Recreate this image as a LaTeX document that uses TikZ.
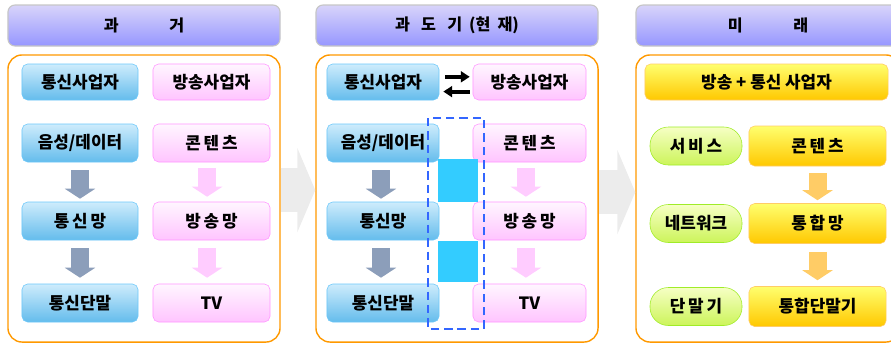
\documentclass[tikz,border=0pt]{standalone}
\usepackage{fontspec}
\setmainfont{Noto Sans CJK KR}
\usetikzlibrary{positioning}
\usetikzlibrary{arrows.meta}

\definecolor{hdrtop}{RGB}{216,212,250}
\definecolor{hdrbot}{RGB}{150,150,255}
\definecolor{panelorange}{RGB}{255,153,0}
\definecolor{telline}{RGB}{108,200,250}
\definecolor{teltop}{RGB}{206,236,252}
\definecolor{telbot}{RGB}{100,188,236}
\definecolor{bcline}{RGB}{255,150,255}
\definecolor{bctop}{RGB}{255,246,255}
\definecolor{bcbot}{RGB}{255,196,255}
\definecolor{yeltop}{RGB}{255,255,110}
\definecolor{yelbot}{RGB}{255,200,0}
\definecolor{yelline}{RGB}{255,204,102}
\definecolor{ovaltop}{RGB}{246,255,196}
\definecolor{ovalbot}{RGB}{204,244,90}
\definecolor{ovalline}{RGB}{160,236,40}
\definecolor{flowblue}{RGB}{140,158,186}
\definecolor{flowpink}{RGB}{255,204,255}
\definecolor{flowyel}{RGB}{255,204,102}
\definecolor{movecyan}{RGB}{51,204,255}
\definecolor{dashblue}{RGB}{51,102,255}

\newcommand\bxfont{\bfseries\fontsize{12}{14}\selectfont}

\begin{document}
\begin{tikzpicture}[x=0.025cm,y=-0.025cm,
    header/.style={draw=gray!45,line width=0.8pt,rounded corners=5pt,top color=hdrtop,bottom color=hdrbot,
      minimum height=1.025cm,inner sep=0pt,font=\bfseries\fontsize{11.5}{13}\selectfont},
    panel/.style={draw=panelorange,line width=1pt,rounded corners=10pt,fill=white,
      minimum height=7.175cm,inner sep=0pt},
    telbox/.style={draw=telline,rounded corners=4pt,top color=teltop,bottom color=telbot,
      minimum height=0.95cm,inner sep=0pt,font=\bxfont},
    bcbox/.style={draw=bcline,rounded corners=4pt,top color=bctop,bottom color=bcbot,
      minimum height=0.95cm,inner sep=0pt,font=\bxfont},
    yelbox/.style={draw=yelline,rounded corners=4pt,top color=yeltop,bottom color=yelbot,
      minimum height=1cm,inner sep=0pt,font=\bxfont},
    ovalbox/.style={draw=ovalline,rounded corners=13pt,top color=ovaltop,bottom color=ovalbot,
      minimum width=2.3cm,minimum height=0.95cm,inner sep=0pt,font=\bxfont},
    flow/.style={line width=0.45cm,-{Triangle[width=0.75cm,length=0.25cm]}},
    stage/.style={draw=gray!15,line width=1.1cm,-{Triangle[width=2.1cm,length=0.45cm]}},
    swap/.style={line width=0.1cm,-{Triangle[width=0.27cm,length=0.22cm]}}
  ]
  \useasboundingbox (0,0) rectangle (891,345);

  % panels and headers
  \node[panel,minimum width=6.8cm] (lpanel) at (144,198.5) {};
  \node[panel,minimum width=7.05cm] (mpanel) at (457,198.5) {};
  \node[panel,minimum width=6.6cm] (rpanel) at (768,198.5) {};
  \node[header,minimum width=6.8cm] (lhead) at (144,25.5) {과\hspace{36pt}거};
  \node[header,minimum width=7.05cm] (mhead) at (457,25.5) {과\hspace{8pt}도\hspace{8pt}기\hspace{5pt}(현\hspace{5pt}재)};
  \node[header,minimum width=6.6cm] (rhead) at (768,25.5) {미\hspace{36pt}래};

  \draw[stage] ([yshift=0.21cm]lpanel.east) -- ([yshift=0.21cm]mpanel.west);
  \draw[stage] ([yshift=0.16cm]mpanel.east) -- ([yshift=0.16cm]rpanel.west);

  % past
  \node[telbox,minimum width=2.9cm,minimum height=0.9cm] (ltel) at (80,82) {통신사업자};
  \node[telbox,minimum width=2.9cm] (lvoice) at (80,143) {음성/데이터};
  \node[telbox,minimum width=2.9cm] (lnet) at (80,221) {통\,신\,망};
  \node[telbox,minimum width=2.9cm] (lterm) at (80,303) {통신단말};
  \node[bcbox,minimum width=2.925cm,minimum height=0.9cm] (lbc) at (211.5,82) {방송사업자};
  \node[bcbox,minimum width=2.925cm] (lcont) at (211.5,143) {콘\,텐\,츠};
  \node[bcbox,minimum width=2.925cm] (lbnet) at (211.5,221) {방\,송\,망};
  \node[bcbox,minimum width=2.925cm] (ltv) at (211.5,303) {TV};

  \draw[flow,flowblue,shorten <=0.2cm,shorten >=0.075cm] (lvoice) -- (lnet);
  \draw[flow,flowblue,shorten <=0.2cm,shorten >=0.15cm] (lnet) -- (lterm);
  \draw[flow,flowpink,shorten <=0.15cm,shorten >=0.125cm] ([xshift=-0.11cm]lcont.south) -- ([xshift=-0.11cm]lbnet.north);
  \draw[flow,flowpink,shorten <=0.2cm,shorten >=0.15cm] ([xshift=-0.11cm]lbnet.south) -- ([xshift=-0.11cm]ltv.north);

  % transition
  \node[telbox,minimum width=2.8cm,minimum height=0.9cm] (mtel) at (383,82) {통신사업자};
  \node[telbox,minimum width=2.8cm] (mvoice) at (383,143) {음성/데이터};
  \node[telbox,minimum width=2.8cm] (mnet) at (383,221) {통신망};
  \node[telbox,minimum width=2.8cm] (mterm) at (383,303) {통신단말};
  \node[bcbox,minimum width=2.825cm,minimum height=0.9cm] (mbc) at (529.5,82) {방송사업자};
  \node[bcbox,minimum width=2.825cm] (mcont) at (529.5,143) {콘\,텐\,츠};
  \node[bcbox,minimum width=2.825cm] (mbnet) at (529.5,221) {방\,송\,망};
  \node[bcbox,minimum width=2.825cm] (mtv) at (529.5,303) {TV};

  \draw[swap,shorten <=0.15cm,shorten >=0.075cm] ([yshift=0.13cm]mtel.east) -- ([yshift=0.13cm]mbc.west);
  \draw[swap,shorten <=0.075cm,shorten >=0.1cm] ([yshift=-0.24cm]mbc.west) -- ([yshift=-0.24cm]mtel.east);

  \draw[flow,flowblue,shorten <=0.2cm,shorten >=0.075cm] ([xshift=-0.05cm]mvoice.south) -- ([xshift=-0.05cm]mnet.north);
  \draw[flow,flowblue,shorten <=0.2cm,shorten >=0.15cm] ([xshift=-0.05cm]mnet.south) -- ([xshift=-0.05cm]mterm.north);
  \draw[flow,flowpink,shorten <=0.15cm,shorten >=0.125cm] ([xshift=-0.09cm]mcont.south) -- ([xshift=-0.09cm]mbnet.north);
  \draw[flow,flowpink,shorten <=0.2cm,shorten >=0.15cm] ([xshift=-0.09cm]mbnet.south) -- ([xshift=-0.09cm]mtv.north);

  \fill[movecyan] (438,159) rectangle (478,202);
  \fill[movecyan] (438,241) rectangle (478,282);
  \draw[dashblue,line width=1.6pt,dash pattern=on 6pt off 3.5pt] (428,118) rectangle (484,329);

  % future
  \node[yelbox,minimum width=6.075cm,minimum height=0.9cm] (rall) at (766.5,82) {방송 + 통신 사업자};
  \node[ovalbox] (rsvc) at (696,146) {서\,비\,스};
  \node[ovalbox] (rnw) at (696,223.5) {네트워크};
  \node[ovalbox] (rdev) at (696,306.5) {단\,말\,기};
  \node[yelbox,minimum width=3.425cm] (rcont) at (817.5,146) {콘\,텐\,츠};
  \node[yelbox,minimum width=3.425cm] (rnet) at (817.5,223.5) {통\,합\,망};
  \node[yelbox,minimum width=3.425cm] (rterm) at (817.5,306.5) {통합단말기};

  \draw[flow,flowyel,shorten <=0.175cm,shorten >=0.075cm] (rcont) -- (rnet);
  \draw[flow,flowyel,shorten <=0.2cm,shorten >=0.15cm] (rnet) -- (rterm);
\end{tikzpicture}
\end{document}
